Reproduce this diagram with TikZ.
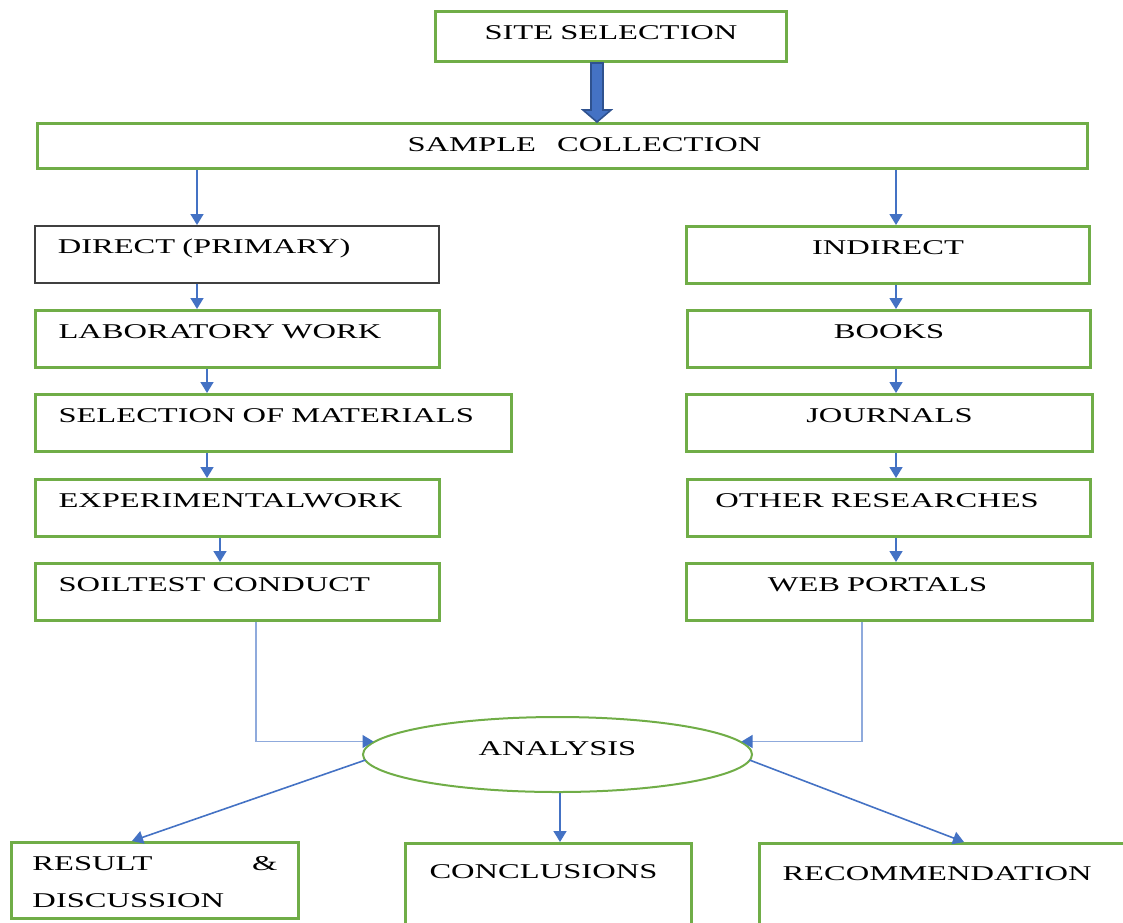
\documentclass[tikz,border=0pt]{standalone}
\usepackage{fontspec}
\setmainfont{Liberation Serif}[FakeStretch=1.55]
\usetikzlibrary{arrows.meta,shapes.geometric,calc}

\definecolor{boxgreen}{HTML}{70AD47}
\definecolor{linkblue}{HTML}{4472C4}
\definecolor{feedblue}{HTML}{8FAADC}
\definecolor{darkblue}{HTML}{2F528F}

\tikzset{
  flowbox/.style={rectangle, draw=boxgreen, line width=1.5pt, anchor=north west,
    inner ysep=0pt, font=\fontsize{10.5}{18.5}\selectfont},
  leftbox/.style={flowbox, text width=#1, inner xsep=11.5pt, align=left,
    minimum height=28.5pt, text height=14pt, text depth=14.5pt},
  leftbox/.default=179pt,
  rightbox/.style={flowbox, text width=#1, inner xsep=0pt, align=center,
    minimum height=28.5pt, text height=14pt, text depth=14.5pt},
  rightbox/.default=201.5pt,
  conn/.style={draw=linkblue, line width=0.8pt, -{Triangle[length=5.5pt,width=6.5pt]}},
  feed/.style={draw=feedblue, line width=0.7pt, -{Triangle[length=5.5pt,width=6.5pt,color=linkblue]}},
  bigarrow/.style={fill=linkblue, draw=darkblue, line width=0.8pt},
}

\begin{document}
\begin{tikzpicture}[x=0.5pt, y=-0.5pt]
    \path[use as bounding box, clip] (0,0) rectangle (1123,922);

    % Top of the chart
    \node[flowbox, text width=175.5pt, inner xsep=0pt, align=center, minimum height=25pt,
      text height=14pt, text depth=11pt] (site) at (434,10) {SITE SELECTION};
    \node[flowbox, text width=525pt, inner xsep=0pt, align=center, minimum height=22.5pt,
      text height=14pt, text depth=8.5pt] (sample) at (36,122) {\hspace*{22pt}SAMPLE~~~COLLECTION};

    % Direct branch
    \node[leftbox, draw=black!75, line width=0.8pt] (direct) at (34,225) {DIRECT (PRIMARY)};
    \node[leftbox] (lab) at (34,309) {LABORATORY WORK};
    \node[leftbox=215pt] (sel) at (34,393) {SELECTION OF MATERIALS};
    \node[leftbox] (exp) at (34,478) {EXPERIMENTALWORK};
    \node[leftbox] (soil) at (34,562) {SOILTEST CONDUCT};

    % Indirect branch
    \node[rightbox] (indirect) at (685,225) {INDIRECT};
    \node[rightbox] (books) at (686,309) {BOOKS};
    \node[rightbox=203pt] (journals) at (685,393) {JOURNALS};
    \node[rightbox] (other) at (686,478) {OTHER RESEARCHES\hspace*{12pt}\mbox{}};
    \node[rightbox=203pt] (web) at (685,562) {WEB PORTALS\hspace*{12pt}\mbox{}};

    % Analysis and outcomes
    \node[ellipse, draw=boxgreen, line width=1pt, minimum width=194.5pt, minimum height=37.5pt,
      inner sep=0pt, text height=4pt, text depth=3pt, font=\fontsize{10.5}{12}\selectfont]
      (analysis) at (557.5,754.5) {ANALYSIS};
    \node[flowbox, text width=122.5pt, inner xsep=10.5pt, align=left, minimum height=38pt,
      text height=14pt, text depth=24pt] (result) at (10,841) {RESULT\hfill\&\\DISCUSSION};
    \node[flowbox, text width=119pt, inner xsep=12pt, align=left, minimum height=50pt,
      text height=17.5pt, text depth=32.5pt] (concl) at (404,842) {CONCLUSIONS};
    \node[flowbox, text width=183pt, inner xsep=11.5pt, align=left, minimum height=50pt,
      text height=18.5pt, text depth=31.5pt] (recom) at (758,842) {RECOMMENDATION};

    % Column positions of the connectors
    \coordinate (bigx) at (597,0);
    \coordinate (lcolA) at (197,0);
    \coordinate (lcolB) at (207,0);
    \coordinate (lcolC) at (220,0);
    \coordinate (rcol) at (896,0);
    \coordinate (lfeed) at (256,0);
    \coordinate (rfeed) at (862,0);
    \coordinate (midx) at (560,0);
    \coordinate (resin) at (132,0);
    \coordinate (recin) at (964,0);

    % Block arrow
    \draw[bigarrow] ($(site.south -| bigx)+(-6,0)$) -- ($(sample.north -| bigx)+(-6,-12)$)
      -- ($(sample.north -| bigx)+(-14,-12)$) -- (sample.north -| bigx)
      -- ($(sample.north -| bigx)+(14,-12)$) -- ($(sample.north -| bigx)+(6,-12)$)
      -- ($(site.south -| bigx)+(6,0)$) -- cycle;

    % Left column arrows
    \draw[conn] (sample.south -| lcolA) -- (direct.north -| lcolA);
    \draw[conn] (direct.south -| lcolA) -- (lab.north -| lcolA);
    \draw[conn] (lab.south -| lcolB) -- (sel.north -| lcolB);
    \draw[conn] (sel.south -| lcolB) -- (exp.north -| lcolB);
    \draw[conn] (exp.south -| lcolC) -- (soil.north -| lcolC);

    % Right column arrows
    \draw[conn] (sample.south -| rcol) -- (indirect.north -| rcol);
    \draw[conn] (indirect.south -| rcol) -- (books.north -| rcol);
    \draw[conn] (books.south -| rcol) -- (journals.north -| rcol);
    \draw[conn] (journals.south -| rcol) -- (other.north -| rcol);
    \draw[conn] (other.south -| rcol) -- (web.north -| rcol);

    % Into the analysis
    \draw[feed] (soil.south -| lfeed) |- ($(analysis.center)+(-184,-13)$);
    \draw[feed] (web.south -| rfeed) |- ($(analysis.center)+(184,-13)$);

    % Out of the analysis
    \draw[conn] ($(analysis.center)+(-192,5.5)$) -- (result.north -| resin);
    \draw[conn] (analysis.south -| midx) -- (concl.north -| midx);
    \draw[conn] ($(analysis.center)+(192,5.5)$) -- (recom.north -| recin);
\end{tikzpicture}
\end{document}
